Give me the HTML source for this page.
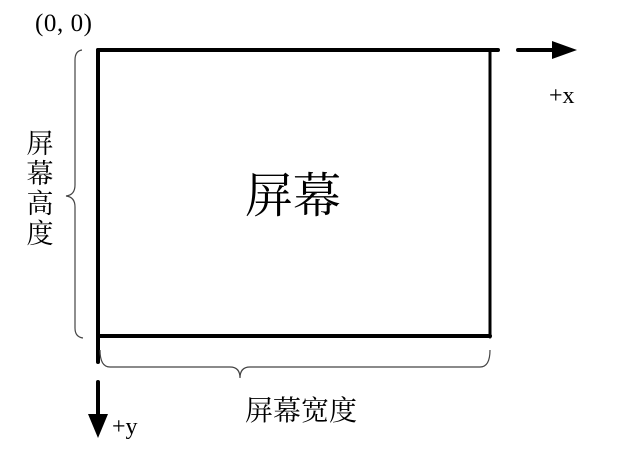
<!DOCTYPE html>
<html><head><meta charset="utf-8"><style>
html,body{margin:0;padding:0;background:#fff;}
svg{display:block;}
text{font-family:"Liberation Serif","Noto Serif CJK SC",serif;fill:#000;}
</style></head><body>
<svg width="640" height="453" viewBox="0 0 640 453" xmlns="http://www.w3.org/2000/svg">
<g stroke="#000" fill="none" stroke-linecap="round">
<line x1="98" y1="50" x2="498" y2="50" stroke-width="4"/>
<line x1="98" y1="50" x2="98" y2="362" stroke-width="4"/>
<line x1="490" y1="50" x2="490" y2="337" stroke-width="3"/>
<line x1="98" y1="336" x2="490" y2="336" stroke-width="4"/>
<line x1="518" y1="50" x2="555" y2="50" stroke-width="4"/>
<line x1="98" y1="382" x2="98" y2="420" stroke-width="4"/>
</g>
<polygon points="552,41 577,50 552,59" fill="#000"/>
<polygon points="88,414 108,414 98,438" fill="#000"/>
<g stroke="#444" fill="none" stroke-width="1.2">
<path d="M82,50 Q75,51 75,60 L75,185 Q75,195 66,196 Q75,197 75,207 L75,328 Q75,337 83,338"/>
<path d="M100,350 Q100,367 110,367 L230,367 Q240,367 240,378 Q240,367 250,367 L480,367 Q490,367 490,350"/>
</g>
<text x="35" y="31" font-size="25" textLength="57" lengthAdjust="spacing">(0, 0)</text>
<text x="549" y="103" font-size="24">+x</text>
<text x="112" y="434" font-size="24">+y</text>
<text x="293" y="212" font-size="48" text-anchor="middle">屏幕</text>
<text x="301" y="420" font-size="28" text-anchor="middle">屏幕宽度</text>
<g font-size="27" text-anchor="middle">
<text x="40" y="153">屏</text>
<text x="40" y="183">幕</text>
<text x="40" y="213">高</text>
<text x="40" y="243">度</text>
</g>
</svg>
</body></html>
